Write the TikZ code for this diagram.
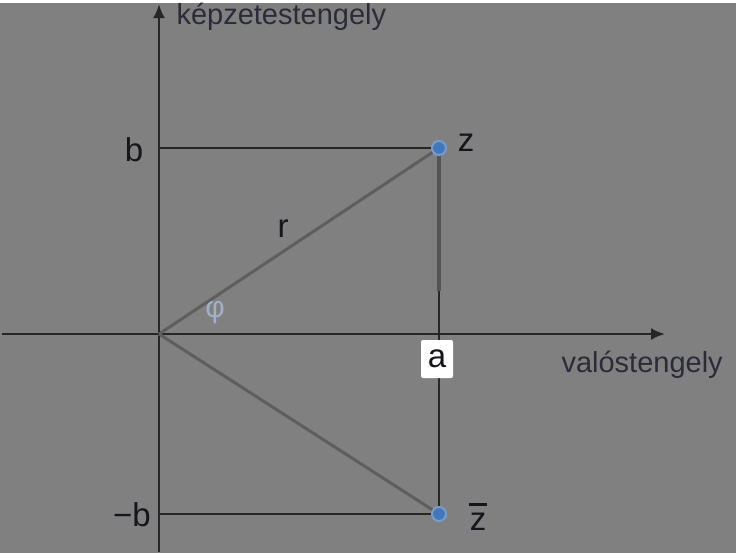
\documentclass[tikz,border=0pt]{standalone}
\usepackage{fontspec}
\setmainfont{Liberation Sans}
\usetikzlibrary{arrows.meta}
\definecolor{bgGray}{RGB}{128,128,128}
\definecolor{lineDark}{RGB}{38,38,38}
\definecolor{diagGray}{RGB}{94,94,94}
\definecolor{legGray}{RGB}{84,84,84}
\definecolor{textDark}{RGB}{22,22,26}
\definecolor{nameDark}{RGB}{44,44,56}
\definecolor{phiBlue}{RGB}{160,178,202}
\definecolor{pointBlue}{RGB}{68,118,186}
\definecolor{pointHalo}{RGB}{120,156,204}

\begin{document}
\begin{tikzpicture}[x=1pt, y=-1pt, color=lineDark,
      every node/.append style={font=\fontsize{33}{36}\selectfont, text=textDark},
      axis/.style={line width=2.5pt, -{Latex[length=14pt,width=12pt]}}]
    \tikzstyle{grid} = [line width=2.5pt]
    \tikzstyle{radius} = [line width=3pt, color=diagGray]
    \tikzstyle{point} = [circle, fill=pointBlue, draw=pointHalo, line width=2pt, inner sep=0pt, minimum size=14pt]
    \tikzstyle{axisname} = [font=\fontsize{29}{32}\selectfont, text=nameDark, anchor=west]
    \fill[bgGray] (0,0) rectangle (736,550);
    % axes
    \coordinate (O) at (159,331);
    \coordinate (xstart) at (2,331);
    \coordinate (xend) at (665,331);
    \coordinate (ystart) at (159,549);
    \coordinate (yend) at (159,1);
    \draw[axis] (xstart) -- (xend);
    \draw[axis] (ystart) -- (yend);
    \node (re) [axisname] at (558,362) {valóstengely};
    \node (im) [axisname] at (173,14) {képzetestengely};
    % the two points
    \coordinate (z0) at (439,145);
    \coordinate (zbar0) at (439,511);
    \coordinate (legEnd) at (439,288);
    \draw[grid] (O |- z0) -- (z0);
    \draw[grid] (O |- zbar0) -- (zbar0);
    \draw[line width=2pt] (z0) -- (zbar0);
    \draw[line width=4.5pt, color=legGray] (z0) -- (legEnd);
    \draw[radius] (O) -- (z0);
    \draw[radius] (O) -- (zbar0);
    \node (z) [point] at (z0) {};
    \node (zbar) [point] at (zbar0) {};
    % labels
    \node (a) [fill=white, rounded corners=2pt, minimum width=32pt, minimum height=38pt, inner sep=0pt] at (437,356) {a};
    \node (b) at (134,147) {b};
    \node (mb) at (132,512) {−b};
    \node (zlab) at (466,140) {z};
    \node (zbarlab) at (478,519) {z};
    \draw[line width=3pt, color=textDark] ([xshift=-9pt]zbarlab.north) ++(0,-5) -- ++(18,0);
    \node (r) at (283,226) {r};
    \node (phi) [font=\fontsize{30}{32}\selectfont, text=phiBlue] at (215,309) {φ};
\end{tikzpicture}
\end{document}
